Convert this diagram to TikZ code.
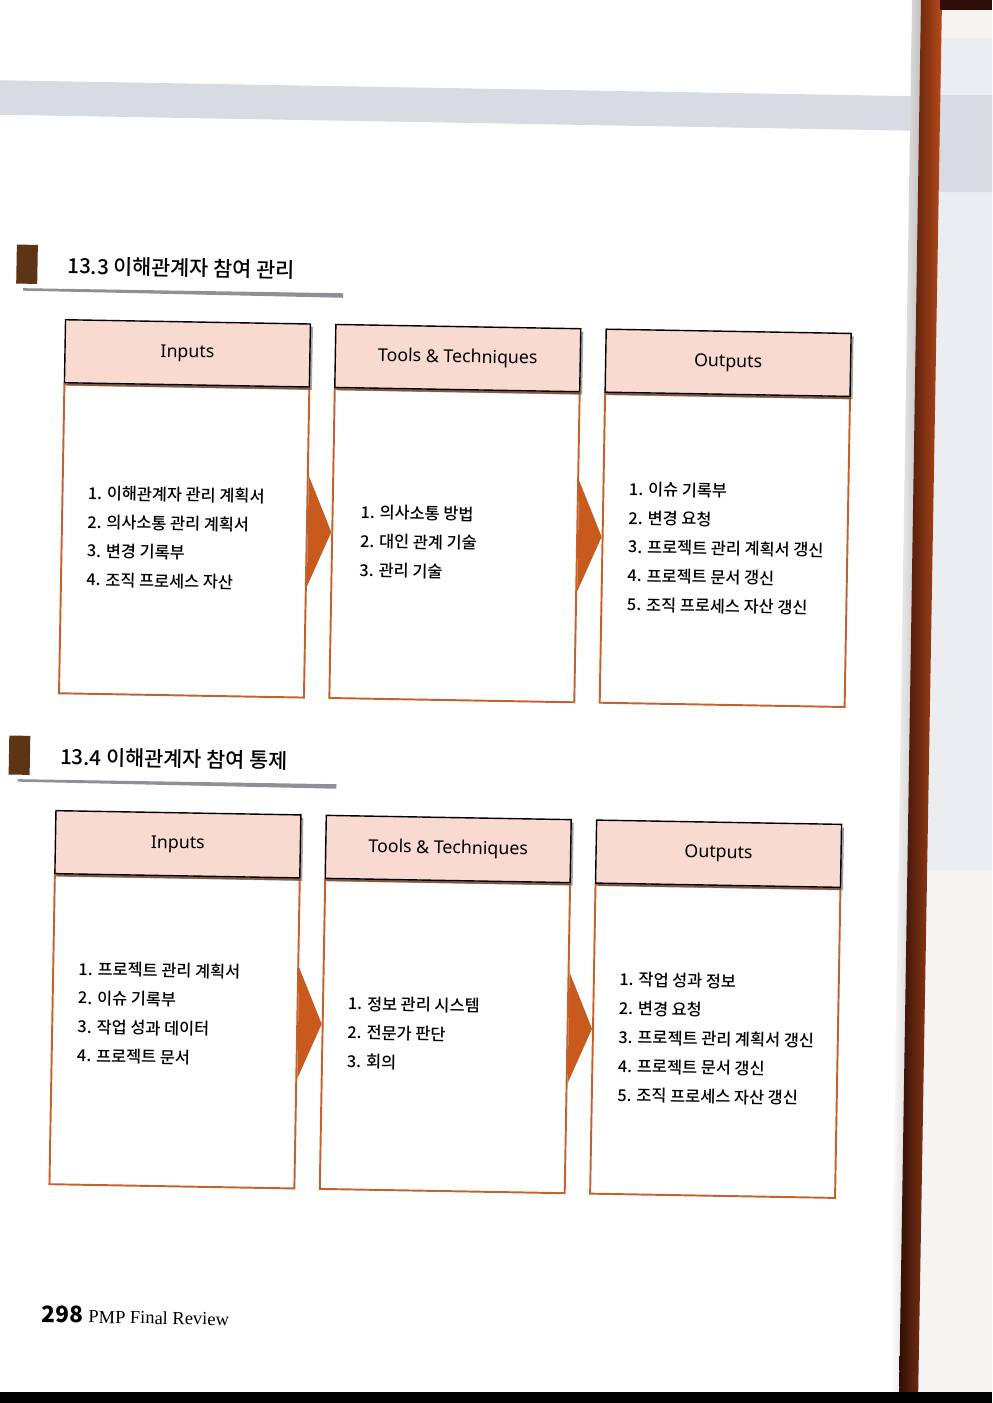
\documentclass[tikz,border=0pt]{standalone}
\usepackage{fontspec}
\setmainfont{Liberation Serif}
\newfontfamily\kr{Noto Sans CJK KR}
\newfontfamily\krmed{Noto Sans CJK KR Medium}
\newfontfamily\hdrfont{Noto Sans}
\usepackage{tikz}
\usetikzlibrary{positioning, calc, shadows}

\definecolor{hdrpink}{HTML}{F8DAD1}
\definecolor{boxline}{HTML}{C2622E}
\definecolor{arrowfill}{HTML}{C85A1E}
\definecolor{markbrown}{HTML}{5E3417}
\definecolor{rulegray}{HTML}{8D9196}
\definecolor{bandgray}{HTML}{D7DCE2}
\definecolor{binddark}{HTML}{2E0E06}
\definecolor{bindorange}{HTML}{B84A1C}
\definecolor{rightpage}{HTML}{F5F4F2}
\definecolor{rightgray}{HTML}{ECEDF0}

\tikzset{
  hdr/.style={draw=black, line width=0.8pt, fill=hdrpink, minimum width=4.9cm,
    minimum height=1.26cm, inner sep=0pt, font=\hdrfont\fontsize{10.1}{11}\selectfont,
    drop shadow={shadow xshift=0.05cm, shadow yshift=-0.06cm, fill=black!70, opacity=0.5}},
  bodybox/.style={draw=boxline, line width=1.1pt, fill=white, minimum width=4.9cm,
    minimum height=6.18cm, inner sep=0pt},
  itemlist/.style={anchor=west, align=left, inner sep=0pt, font=\krmed\fontsize{9.3}{16.44}\selectfont},
  secttitle/.style={anchor=west, inner sep=0pt, font=\krmed\fontsize{11.8}{13}\selectfont},
  flowarrow/.style={fill=arrowfill},
}

\begin{document}
\begin{tikzpicture}[x=0.02cm, y=-0.02cm]
\useasboundingbox (0,0) rectangle (992,1403);
% page
\fill[white] (0,0) rectangle (992,1403);

\begin{scope}[rotate around={-1:(496,700)}, transform shape]
% gray band at the top
\fill[bandgray] (-40,89) rectangle (940,123.5);

% section 13.3
\fill[markbrown] (9,253) rectangle (30,292);
\node[secttitle] (sec1) at (59.5,273.5) {13.3 이해관계자 참여 관리};
\fill[rulegray] (16,296.5) -- (336,296) -- (336,300.5) -- (16,299) -- cycle;

\node[bodybox, anchor=north west] (in1b) at (58,391) {};
\node[bodybox, right=0.47cm of in1b] (tt1b) {};
\node[bodybox, right=0.47cm of tt1b] (out1b) {};
\node[hdr, above=0pt of in1b] (in1h) {Inputs};
\node[hdr, above=0pt of tt1b] (tt1h) {Tools \& Techniques};
\node[hdr, above=0pt of out1b] (out1h) {Outputs};

% arrows between the boxes
\fill[flowarrow] ($(in1b.north east)+(0,88)$) -- ($(tt1b.north west)+(0,144)$) -- ($(in1b.north east)+(0,199)$) -- cycle;
\fill[flowarrow] ($(tt1b.north east)+(0,88)$) -- ($(out1b.north west)+(0,144)$) -- ($(tt1b.north east)+(0,199)$) -- cycle;

\node[itemlist] (in1l) at (84,543.5) {1. 이해관계자 관리 계획서\\2. 의사소통 관리 계획서\\3. 변경 기록부\\4. 조직 프로세스 자산};
\node[itemlist] (tt1l) at (357,543.5) {1. 의사소통 방법\\2. 대인 관계 기술\\3. 관리 기술};
\node[itemlist] (out1l) at (625,544.5) {1. 이슈 기록부\\2. 변경 요청\\3. 프로젝트 관리 계획서 갱신\\4. 프로젝트 문서 갱신\\5. 조직 프로세스 자산 갱신};

% section 13.4
\fill[markbrown] (10,744) rectangle (31,783);
\node[secttitle] (sec2) at (61,764.5) {13.4 이해관계자 참여 통제};
\fill[rulegray] (19,787.5) -- (338,787) -- (338,791.5) -- (19,790) -- cycle;

\node[bodybox, anchor=north west] (in2b) at (57,882) {};
\node[bodybox, right=0.47cm of in2b] (tt2b) {};
\node[bodybox, right=0.47cm of tt2b] (out2b) {};
\node[hdr, above=0pt of in2b] (in2h) {Inputs};
\node[hdr, above=0pt of tt2b] (tt2h) {Tools \& Techniques};
\node[hdr, above=0pt of out2b] (out2h) {Outputs};

% arrows between the boxes
\fill[flowarrow] ($(in2b.north east)+(0,89)$) -- ($(tt2b.north west)+(0,145)$) -- ($(in2b.north east)+(0,200)$) -- cycle;
\fill[flowarrow] ($(tt2b.north east)+(0,89)$) -- ($(out2b.north west)+(0,145)$) -- ($(tt2b.north east)+(0,200)$) -- cycle;

\node[itemlist] (in2l) at (83,1019.5) {1. 프로젝트 관리 계획서\\2. 이슈 기록부\\3. 작업 성과 데이터\\4. 프로젝트 문서};
\node[itemlist] (tt2l) at (353,1035) {1. 정보 관리 시스템\\2. 전문가 판단\\3. 회의};
\node[itemlist] (out2l) at (624,1035) {1. 작업 성과 정보\\2. 변경 요청\\3. 프로젝트 관리 계획서 갱신\\4. 프로젝트 문서 갱신\\5. 조직 프로세스 자산 갱신};

% footer
\node[anchor=base west, inner sep=0pt, font=\kr\bfseries\fontsize{12.9}{14}\selectfont] (pgno) at (52,1330) {298};
\node[anchor=base west, inner sep=0pt, font=\fontsize{10.5}{12}\selectfont] (book) at (99,1330) {PMP Final Review};
\end{scope}

% binding and the next page
\shade[left color=white, right color=black!25] (912,0) -- (922,0) -- (900,1403) -- (890,1403) -- cycle;
\fill[rightpage] (941,0) -- (992,0) -- (992,1403) -- (917,1403) -- cycle;
\fill[rightgray] (940,38) -- (992,38) -- (992,870) -- (927,870) -- cycle;
\fill[bandgray] (939,95) -- (992,95) -- (992,192) -- (937,192) -- cycle;
\shade[left color=binddark, right color=bindorange] (921,0) -- (942,0) -- (918,1403) -- (899,1403) -- cycle;
\fill[binddark] (940,0) rectangle (992,10);
% bottom edge of the scan
\fill[black] (0,1392) rectangle (992,1403);
\end{tikzpicture}
\end{document}
